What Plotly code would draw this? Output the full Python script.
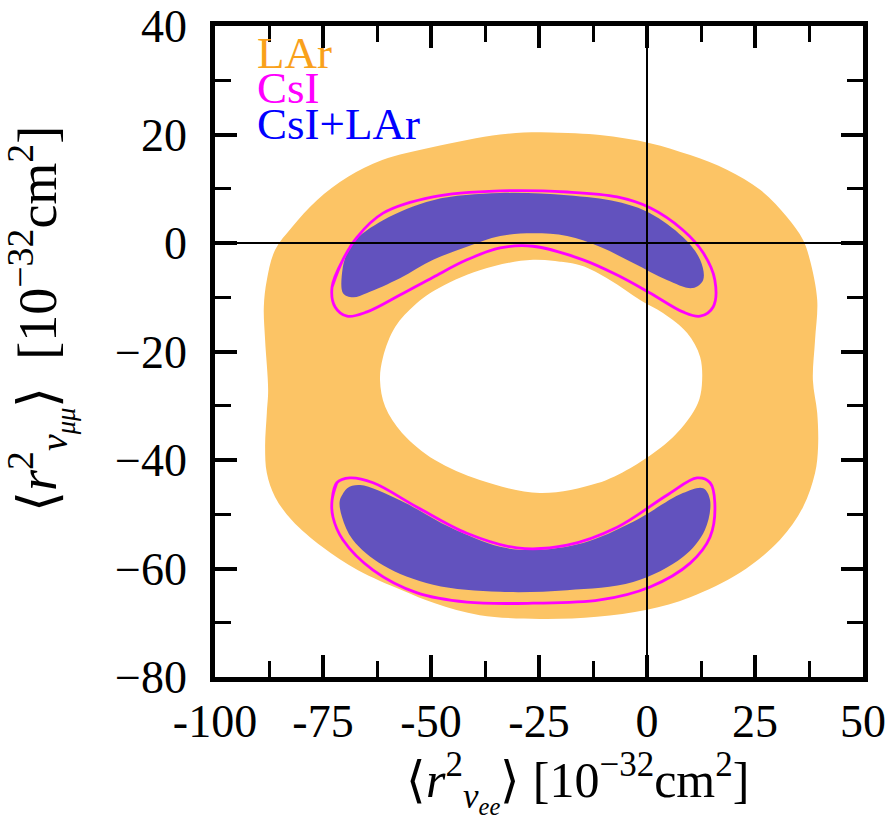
import plotly.graph_objects as go

# ---------------- data (in axis units) ----------------
# LAr allowed region: outer boundary
lar_outer_x = [-24.8, -10.9, 0.7, 10.0, 18.5, 26.2, 32.4, 36.1, 37.7, 39.4, 38.9, 38.4, 39.4, 39.6,
               38.9, 36.1, 30.8, 21.5, 10.0, 0.0, -11.6, -24.8, -38.7, -49.1, -56.7, -66.9, -75.2,
               -82.2, -86.1, -88.0, -88.4, -88.0, -87.7, -88.4, -88.7, -88.0, -86.1, -82.2, -76.4,
               -69.2, -61.3, -49.5, -34.0]
lar_outer_y = [20.4, 19.9, 18.4, 16.2, 13.5, 9.8, 4.8, 0.6, -3.1, -10.5, -17.9, -25.3, -31.3, -37.6,
               -42.4, -48.7, -54.7, -60.8, -65.3, -67.6, -68.9, -69.3, -68.6, -66.4, -64.0, -60.3, -56.0,
               -51.1, -46.8, -42.4, -37.6, -31.3, -27.1, -17.9, -11.8, -6.8, -1.3, 2.9, 7.9,
               12.2, 15.3, 17.7, 20.0]
# LAr allowed region: inner (excluded) hole
lar_hole_x = [-26.4, -15.5, -8.6, -1.6, 3.7, 9.3, 12.3, 12.7, 11.8, 9.5, 6.0, 1.9, -3.9, -11.6, -24.8,
              -38.7, -49.1, -56.7, -60.6, -61.8, -61.1, -58.3, -53.7, -49.1, -38.7]
lar_hole_y = [-3.1, -4.1, -6.8, -10.5, -12.9, -16.6, -21.0, -26.2, -29.5, -32.6, -35.8, -38.5, -41.5, -44.3, -46.1,
              -43.7, -40.0, -35.0, -30.2, -25.3, -21.0, -15.5, -11.4, -8.7, -5.0]

# CsI contours (upper and lower islands)
csi_up_x = [-72.9, -70.4, -67.1, -61.1, -49.5, -34.0, -18.5, -6.9, 0.7, 8.3, 13.0, 15.7, 15.3, 12.3,
            8.3, 0.7, -6.9, -14.8, -26.4, -34.0, -41.7, -49.5, -57.2, -64.8, -69.4, -72.2]
csi_up_y = [-8.1, -3.1, 1.1, 5.5, 8.5, 9.6, 9.4, 8.5, 6.5, 2.4, -1.8, -6.8, -11.8, -13.5,
            -12.7, -9.2, -5.9, -3.1, -0.6, -0.9, -3.1, -6.3, -9.6, -12.7, -13.5, -11.8]
csi_lo_x = [-72.9, -71.8, -68.8, -63.4, -53.2, -41.7, -30.1, -18.5, -6.9, 4.6, 11.6, 14.6, 15.7, 14.6,
            10.0, 0.7, -10.9, -26.4, -41.7, -53.2, -63.4, -70.4, -72.7]
csi_lo_y = [-47.4, -44.2, -43.3, -44.2, -48.7, -53.5, -56.2, -55.7, -52.4, -46.5, -43.3, -44.2, -47.9, -54.2,
            -59.0, -63.4, -65.8, -66.4, -66.2, -64.5, -60.3, -54.7, -50.5]

# CsI+LAr combined regions (upper and lower islands)
comb_up_x = [-70.4, -70.4, -68.1, -61.1, -49.5, -34.0, -18.5, -6.9, 0.7, 8.3, 12.3, 13.0, 10.6, 4.6,
             -3.2, -10.9, -18.5, -26.4, -34.0, -41.7, -49.5, -57.2, -64.8, -68.1]
comb_up_y = [-9.2, -4.4, 0.0, 4.2, 7.9, 9.2, 8.8, 7.6, 5.5, 1.1, -3.1, -6.8, -8.3, -6.8,
             -3.7, -0.7, 1.3, 1.8, 1.3, -0.7, -3.1, -6.5, -9.2, -10.0]
comb_lo_x = [-71.1, -69.4, -66.4, -57.2, -45.6, -34.0, -26.4, -14.8, -3.2, 8.3, 13.0, 14.6, 13.4, 8.3,
             -3.2, -18.5, -34.0, -49.5, -61.1, -68.1, -70.6]
comb_lo_y = [-47.4, -45.2, -44.6, -47.4, -52.4, -56.0, -56.6, -55.3, -51.4, -46.1, -45.2, -47.4, -52.9, -57.9,
             -62.5, -64.0, -64.3, -63.0, -59.4, -54.7, -50.5]

x_tickvals = [-100, -75, -50, -25, 0, 25, 50]
x_ticktext = ["-100", "-75", "-50", "-25", "0", "25", "50"]
y_tickvals = [40, 20, 0, -20, -40, -60, -80]
y_ticktext = ["40", "20", "0", "\u221220", "\u221240", "\u221260", "\u221280"]

legend_labels = ["LAr", "CsI", "CsI+LAr"]
legend_colors = ["#F9A11B", "#FF00FF", "#0000FF"]

# ---------------- styling ----------------
ORANGE = "#FCC465"
PURPLE = "#6252BE"
MAGENTA = "#FF00FF"
FONT = "Liberation Serif"


def closed(xs, ys):
    return list(xs) + [xs[0], xs[1]], list(ys) + [ys[0], ys[1]]


fig = go.Figure()

x, y = closed(lar_outer_x, lar_outer_y)
fig.add_trace(go.Scatter(x=x, y=y, mode="lines", fill="toself", fillcolor=ORANGE,
                         line=dict(width=0, color=ORANGE, shape="spline", smoothing=1.0),
                         hoverinfo="skip", showlegend=False))
x, y = closed(lar_hole_x, lar_hole_y)
fig.add_trace(go.Scatter(x=x, y=y, mode="lines", fill="toself", fillcolor="white",
                         line=dict(width=0, color="white", shape="spline", smoothing=1.0),
                         hoverinfo="skip", showlegend=False))
for xs, ys in [(comb_up_x, comb_up_y), (comb_lo_x, comb_lo_y)]:
    x, y = closed(xs, ys)
    fig.add_trace(go.Scatter(x=x, y=y, mode="lines", fill="toself", fillcolor=PURPLE,
                             line=dict(width=0, color=PURPLE, shape="spline", smoothing=1.0),
                             hoverinfo="skip", showlegend=False))
for xs, ys in [(csi_up_x, csi_up_y), (csi_lo_x, csi_lo_y)]:
    x, y = closed(xs, ys)
    fig.add_trace(go.Scatter(x=x, y=y, mode="lines",
                             line=dict(width=2.8, color=MAGENTA, shape="spline", smoothing=1.0),
                             hoverinfo="skip", showlegend=False))

# zero reference lines drawn above the regions
fig.add_shape(type="line", xref="x", yref="paper", x0=0, x1=0, y0=0, y1=1,
              line=dict(color="black", width=2), layer="above")
fig.add_shape(type="line", xref="paper", yref="y", x0=0, x1=1, y0=0, y1=0,
              line=dict(color="black", width=2), layer="above")

axis_common = dict(showline=True, linecolor="black", linewidth=4.5, mirror="ticks",
                   ticks="inside", ticklen=22, tickwidth=4, tickcolor="black",
                   showgrid=False, zeroline=False, automargin=False,
                   tickfont=dict(family=FONT, size=46, color="black"))

fig.update_xaxes(range=[-100, 50], tickmode="array", tickvals=x_tickvals, ticktext=x_ticktext,
                 minor=dict(dtick=12.5, tick0=0, ticks="inside", ticklen=16, tickwidth=2.5,
                            tickcolor="black", showgrid=False),
                 ticklabelstandoff=0, **axis_common)
fig.update_yaxes(range=[-80, 40], tickmode="array", tickvals=y_tickvals, ticktext=y_ticktext,
                 minor=dict(dtick=10, tick0=0, ticks="inside", ticklen=16, tickwidth=2.5,
                            tickcolor="black", showgrid=False),
                 ticklabelstandoff=14, **axis_common)

# legend as coloured text
for i, (lab, col) in enumerate(zip(legend_labels, legend_colors)):
    fig.add_annotation(xref="paper", yref="paper", x=0.062, y=0.958 - i * 0.054,
                       xanchor="left", yanchor="middle", showarrow=False, text=lab,
                       font=dict(family=FONT, size=45, color=col))

# axis titles
fig.add_annotation(xref="paper", yref="paper", x=0.56, y=-0.162, xanchor="center", yanchor="middle",
                   showarrow=False,
                   text="\u27e8<i>r</i><sup>2</sup><sub><i>\u03bd<sub>ee</sub></i></sub>\u27e9 [10<sup>\u221232</sup>cm<sup>2</sup>]",
                   font=dict(family=FONT, size=50, color="black"))
fig.add_annotation(xref="paper", yref="paper", x=-0.27, y=0.55, xanchor="center", yanchor="middle",
                   showarrow=False, textangle=-90,
                   text="\u27e8<i>r</i><sup>2</sup><sub><i>\u03bd<sub>\u03bc\u03bc</sub></i></sub>\u27e9  [10<sup>\u221232</sup>cm<sup>2</sup>]",
                   font=dict(family=FONT, size=54, color="black"))

fig.update_layout(width=893, height=822, margin=dict(l=215, r=30, t=26, b=145),
                  paper_bgcolor="white", plot_bgcolor="white")

fig.write_html("out.html")
